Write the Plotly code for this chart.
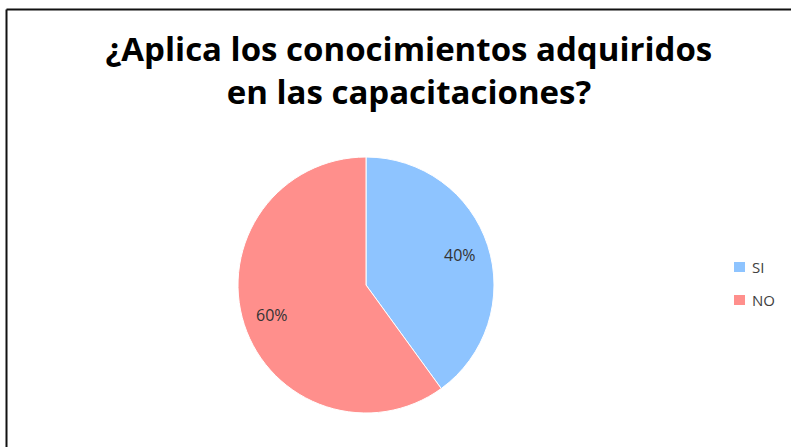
import math
import plotly.graph_objects as go

labels = ["SI", "NO"]
values = [40, 60]
colors = ["#8EC4FF", "#FF8F8C"]
title_text = "<b>¿Aplica los conocimientos adquiridos<br>en las capacitaciones?</b>"

W, H = 791, 447
cx, cy, r = 366, 285, 128

fig = go.Figure(go.Pie(
    labels=labels,
    values=values,
    sort=False,
    direction="clockwise",
    rotation=0,
    marker=dict(colors=colors, line=dict(color="white", width=1)),
    textinfo="none",
    domain=dict(x=[(cx - r) / W, (cx + r) / W], y=[1 - (cy + r) / H, 1 - (cy - r) / H]),
    hoverinfo="label+percent",
    showlegend=False,
))

# percentage labels placed at slice mid-angles
total = sum(values)
annotations = []
start = 0.0
for v in values:
    mid = (start + v / 2) / total * 2 * math.pi
    start += v
    dx = math.sin(mid) * r * 0.77
    dy = -math.cos(mid) * r * 0.77
    annotations.append(dict(
        x=(cx + dx) / W, y=1 - (cy + dy) / H, xref="paper", yref="paper",
        text=f"{round(v / total * 100)}%", showarrow=False,
        font=dict(family="Open Sans", size=16, color="#333333"),
        xanchor="center", yanchor="middle",
    ))

# legend drawn manually
shapes = []
for i, (lab, col) in enumerate(zip(labels, colors)):
    yc = 267 + i * 33
    shapes.append(dict(type="rect", xref="paper", yref="paper",
                       x0=734 / W, x1=745 / W, y0=1 - (yc + 5) / H, y1=1 - (yc - 5) / H,
                       fillcolor=col, line=dict(width=0)))
    annotations.append(dict(x=750 / W, y=1 - yc / H, xref="paper", yref="paper",
                            text=lab, showarrow=False, xanchor="left", yanchor="middle",
                            font=dict(family="Open Sans", size=15, color="#404040")))

shapes += [
    dict(type="line", xref="paper", yref="paper", x0=6.5 / W, x1=1.01, y0=1 - 9.5 / H, y1=1 - 9.5 / H,
         line=dict(color="#111111", width=2)),
    dict(type="line", xref="paper", yref="paper", x0=6.5 / W, x1=6.5 / W, y0=1 - 9.5 / H, y1=-0.01,
         line=dict(color="#111111", width=2)),
]

fig.update_layout(
    width=W, height=H,
    margin=dict(l=0, r=0, t=0, b=0),
    paper_bgcolor="white",
    title=dict(text=title_text, x=0.517, xanchor="center", y=1 - 61 / H, yanchor="middle",
               font=dict(family="Open Sans", size=33, color="#000000")),
    showlegend=False,
    annotations=annotations,
    shapes=shapes,
)

fig.write_html("out.html")
